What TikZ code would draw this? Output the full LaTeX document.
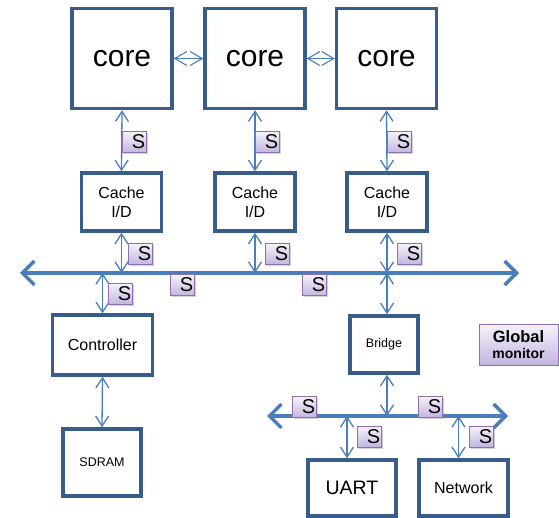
\documentclass[tikz,border=0pt]{standalone}
\usepackage{fontspec}
\setmainfont{Liberation Sans}
\usetikzlibrary{positioning,arrows.meta,shadows}
\definecolor{boxEdge}{RGB}{56,93,138}
\definecolor{link}{RGB}{74,126,187}
\definecolor{sEdge}{RGB}{140,112,176}
\definecolor{sTop}{RGB}{246,242,251}
\definecolor{sBot}{RGB}{196,181,223}

\begin{document}
\begin{tikzpicture}[
  x=1pt, y=-1pt,
  unit/.style={draw=boxEdge, line width=3.5pt, fill=white, align=center, inner sep=0pt},
  corebox/.style={unit, minimum width=100pt, minimum height=100pt, font=\fontsize{30}{30}\selectfont},
  cachebox/.style={unit, minimum width=80pt, minimum height=58pt, font=\fontsize{16}{19}\selectfont},
  sbox/.style={draw=sEdge, line width=0.8pt, top color=sTop, bottom color=sBot, anchor=north west,
    minimum height=21pt, text width=21.5pt, inner xsep=1.2pt, inner ysep=0pt, align=right,
    font=\fontsize{20}{20}\selectfont, drop shadow={shadow xshift=1.2pt, shadow yshift=-1.2pt, opacity=.35}},
  wire/.style={draw=link, line width=1.3pt, {Straight Barb[length=10pt,width=13pt]}-{Straight Barb[length=10pt,width=13pt]}},
  bus/.style={draw=link, line width=3.5pt, {Straight Barb[length=12pt,width=24pt]}-{Straight Barb[length=12pt,width=24pt]}},
]
\useasboundingbox (0,0) rectangle (559,518);

% ---- cores ----
\node[corebox] (coreA) at (122,58.5) {\raisebox{-3pt}{core}};
\node[corebox] (coreB) at (255,58.5) {\raisebox{-3pt}{core}};
\node[corebox] (coreC) at (386.5,58.5) {\raisebox{-3pt}{core}};

\draw[link, line width=1.1pt, {Straight Barb[length=12pt,width=14pt]}-{Straight Barb[length=12pt,width=14pt]}] (coreA.east) -- (coreB.west);
\draw[link, line width=1.1pt, {Straight Barb[length=12pt,width=14pt]}-{Straight Barb[length=12pt,width=14pt]}] (coreB.east) -- (coreC.west);

% ---- caches ----
\node[cachebox] (cacheA) at (121.5,202) {Cache\\I/D};
\node[cachebox] (cacheB) at (255,202) {Cache\\I/D};
\node[cachebox] (cacheC) at (387,202) {Cache\\I/D};

% ---- system bus ----
\coordinate (busL) at (20,273);
\coordinate (busR) at (519,273);
\draw[bus] (busL) -- (busR);

% ---- memory side ----
\node[unit, minimum width=100pt, minimum height=60pt, font=\fontsize{16}{16}\selectfont] (ctrl) at (102.5,345) {Controller};
\node[unit, minimum width=78pt, minimum height=67pt, font=\fontsize{12.5}{12.5}\selectfont] (sdram) at (102,462.5) {SDRAM};

% ---- peripheral side ----
\node[unit, minimum width=68pt, minimum height=57pt, font=\fontsize{12.5}{12.5}\selectfont] (bridge) at (384,344.5) {\raisebox{-2pt}{Bridge}};
\coordinate (pbusL) at (267,416);
\coordinate (pbusR) at (508,416);
\draw[bus] (pbusL) -- (pbusR);
\node[unit, minimum width=88pt, minimum height=56pt, font=\fontsize{19.5}{19.5}\selectfont] (uart) at (352,488) {UART};
\node[unit, minimum width=89pt, minimum height=56pt, font=\fontsize{16}{16}\selectfont] (net) at (463.5,488) {Network};

% ---- links ----
\draw[wire] (coreA.south) -- (cacheA.north);
\draw[wire] (coreB.south) -- (cacheB.north);
\draw[wire] (coreC.south) -- (cacheC.north);
\draw[wire] (cacheA.south) -- (cacheA.south |- busL);
\draw[wire] (cacheB.south) -- (cacheB.south |- busL);
\draw[wire] (cacheC.south) -- (cacheC.south |- busL);
\draw[wire] (ctrl.north |- busL) -- (ctrl.north);
\draw[wire] (ctrl.south) -- (sdram.north);
\draw[wire] (cacheC.south |- busL) -- (cacheC.south |- bridge.north);
\draw[wire] (cacheC.south |- bridge.south) -- (cacheC.south |- pbusL);
\draw[wire] ([xshift=-5pt]uart.north |- pbusL) -- ([xshift=-5pt]uart.north);
\draw[wire] ([xshift=-5pt]net.north |- pbusL) -- ([xshift=-5pt]net.north);

% ---- snoop units ----
\node[sbox] (sCoreA) at (122,131) {S};
\node[sbox] (sCoreB) at (255,131) {S};
\node[sbox] (sCoreC) at (387,131) {S};
\node[sbox] (sCacheA) at (128,243) {S};
\node[sbox] (sCacheB) at (265,243) {S};
\node[sbox] (sCacheC) at (397,243) {S};
\node[sbox] (sBusA) at (170,274) {S};
\node[sbox] (sBusB) at (302,274) {S};
\node[sbox] (sCtrl) at (108,283) {S};
\node[sbox] (sPbusA) at (292,396) {S};
\node[sbox] (sPbusB) at (418,396) {S};
\node[sbox] (sUart) at (357,426) {S};
\node[sbox] (sNet) at (469,426) {S};

% ---- monitor ----
\node[sbox, anchor=center, text width=75pt, inner xsep=2pt, minimum height=41pt, align=center,
      font=\bfseries\fontsize{16.5}{16}\selectfont] (mon) at (518.5,344.5) {Global\\{\fontsize{14}{15}\selectfont monitor}};

\end{tikzpicture}
\end{document}
